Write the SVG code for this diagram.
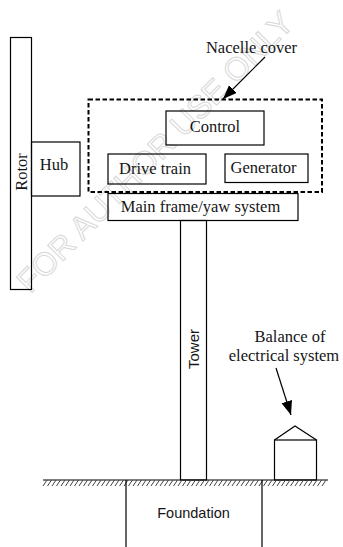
<svg xmlns="http://www.w3.org/2000/svg" width="343" height="547" viewBox="0 0 343 547">
<style>
.box{fill:none;stroke:#000;stroke-width:1.2}
.ser{font-family:"Liberation Serif","Times New Roman",serif;font-size:16.5px;fill:#151515}
.san{font-family:"Liberation Sans",Arial,sans-serif;fill:#151515}
.mid{text-anchor:middle}
.wm{font-family:"Liberation Sans",Arial,sans-serif;font-size:32px;fill:none;stroke:#d8d8d8;stroke-width:1}
</style>
<defs>
<marker id="ah" markerUnits="userSpaceOnUse" markerWidth="16" markerHeight="12" refX="14" refY="5.5" orient="auto">
<path d="M0,0 L14,5.5 L0,11 Z" fill="#000"/>
</marker>
</defs>
<rect width="343" height="547" fill="#fff"/>
<text class="wm mid" transform="translate(155,152) rotate(-45.5)" y="11">FOR AUTHOR USE ONLY</text>
<g id="rotor">
<rect class="box" x="10.5" y="37.5" width="21" height="252"/>
<text class="ser mid" transform="translate(27,172) rotate(-90)" font-size="17">Rotor</text>
</g>
<g id="hub">
<rect class="box" x="31.5" y="142" width="48.5" height="54"/>
<text class="ser mid" x="54" y="170">Hub</text>
</g>
<g id="nacelle">
<rect x="88.5" y="99.5" width="233.5" height="92.5" fill="none" stroke="#000" stroke-width="2" stroke-dasharray="4.5 2.5"/>
<text class="ser mid" x="251.5" y="53">Nacelle cover</text>
</g>
<g id="control">
<rect class="box" x="166" y="111" width="98" height="34"/>
<text class="ser mid" x="215" y="132">Control</text>
</g>
<g id="drivetrain">
<rect class="box" x="108" y="154" width="98" height="30"/>
<text class="ser mid" x="155" y="174">Drive train</text>
</g>
<g id="generator">
<rect class="box" x="225" y="154" width="83" height="28.5"/>
<text class="ser mid" x="263.5" y="173">Generator</text>
</g>
<g id="mainframe">
<rect class="box" x="108" y="193.5" width="190" height="27"/>
<text class="ser mid" x="200.5" y="212">Main frame/yaw system</text>
</g>
<g id="tower">
<rect class="box" x="180.5" y="220.5" width="26" height="259.5"/>
<text class="san mid" font-size="15" transform="translate(199,349) rotate(-90)">Tower</text>
</g>
<g id="balance">
<rect class="box" x="274.5" y="440" width="42" height="40"/>
<polyline class="box" points="274.5,440 295,426 316.5,440"/>
<text class="ser mid" x="290" y="342">Balance of</text>
<text class="ser mid" x="284" y="361">electrical system</text>
</g>
<g id="ground">
<path d="M43,480 H328" stroke="#000" stroke-width="1.2" fill="none"/>
<path d="M43,486 l4,-6 M47.5,486 l4,-6 M52,486 l4,-6 M56.5,486 l4,-6 M61,486 l4,-6 M65.5,486 l4,-6 M70,486 l4,-6 M74.5,486 l4,-6 M79,486 l4,-6 M83.5,486 l4,-6 M88,486 l4,-6 M92.5,486 l4,-6 M97,486 l4,-6 M101.5,486 l4,-6 M106,486 l4,-6 M110.5,486 l4,-6 M115,486 l4,-6 M119.5,486 l4,-6 M124,486 l4,-6 M128.5,486 l4,-6 M133,486 l4,-6 M137.5,486 l4,-6 M142,486 l4,-6 M146.5,486 l4,-6 M151,486 l4,-6 M155.5,486 l4,-6 M160,486 l4,-6 M164.5,486 l4,-6 M169,486 l4,-6 M173.5,486 l4,-6 M178,486 l4,-6 M182.5,486 l4,-6 M187,486 l4,-6 M191.5,486 l4,-6 M196,486 l4,-6 M200.5,486 l4,-6 M205,486 l4,-6 M209.5,486 l4,-6 M214,486 l4,-6 M218.5,486 l4,-6 M223,486 l4,-6 M227.5,486 l4,-6 M232,486 l4,-6 M236.5,486 l4,-6 M241,486 l4,-6 M245.5,486 l4,-6 M250,486 l4,-6 M254.5,486 l4,-6 M259,486 l4,-6 M263.5,486 l4,-6 M268,486 l4,-6 M272.5,486 l4,-6 M277,486 l4,-6 M281.5,486 l4,-6 M286,486 l4,-6 M290.5,486 l4,-6 M295,486 l4,-6 M299.5,486 l4,-6 M304,486 l4,-6 M308.5,486 l4,-6 M313,486 l4,-6 M317.5,486 l4,-6 M322,486 l4,-6" stroke="#444" stroke-width="1" fill="none"/>
</g>
<g id="foundation">
<path class="box" d="M126,480 V547 M262,480 V547"/>
<text class="san mid" font-size="14.5" x="193.5" y="518">Foundation</text>
</g>
<g id="connectors">
<line x1="265" y1="57" x2="223" y2="99" stroke="#000" stroke-width="1.2" marker-end="url(#ah)"/>
<line x1="276" y1="368" x2="291" y2="415" stroke="#000" stroke-width="1.2" marker-end="url(#ah)"/>
</g>
</svg>
